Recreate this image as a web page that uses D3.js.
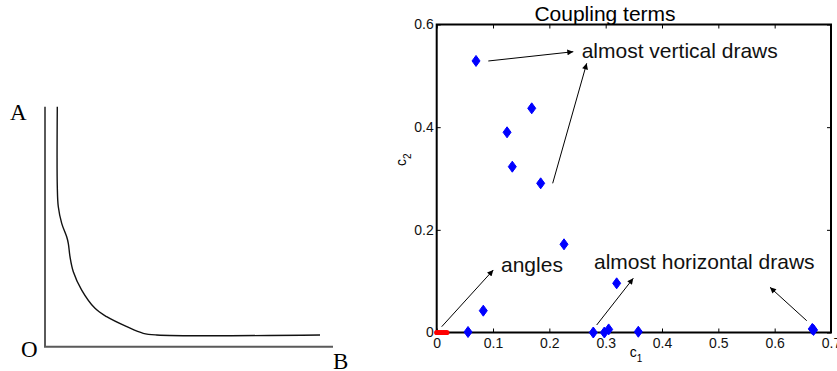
<!DOCTYPE html>
<html>
<head>
<meta charset="utf-8">
<script src="https://cdn.jsdelivr.net/npm/d3@7"></script>
<style>
  body { margin: 0; background: #fff; }
  svg { display: block; }
  .tick text { font-family: "Liberation Sans", Arial, sans-serif; }
</style>
</head>
<body>
<svg id="chart" width="837" height="371"></svg>
<script>
// left sketch: curve in abstract units (0..100 on both axes)
var sketchX = [4.27, 4.27, 4.62, 5.8, 7.53, 8.09, 8.68, 9.83, 12.74, 17.36, 21.4, 28.4, 34.1, 38.8, 95.5];
var sketchY = [100, 66.7, 58.3, 51.4, 45.8, 43.1, 37.5, 31.25, 23.6, 16.0, 12.5, 8.33, 5.58, 4.88, 4.88];

// right chart: coupling terms
var drawC1 = [0.0698, 0.1687, 0.1249, 0.1342, 0.1846, 0.226, 0.3195, 0.0827, 0.0556, 0.278, 0.2976, 0.3053, 0.3579, 0.6668, 0.669];
var drawC2 = [0.529, 0.4367, 0.390, 0.323, 0.2906, 0.1718, 0.0958, 0.0425, 0.001, 0.0, 0.0, 0.006, 0.0015, 0.007, 0.005];
var angleC1 = [0.0, 0.003, 0.006, 0.009, 0.012, 0.015, 0.018];
var angleC2 = [0, 0, 0, 0, 0, 0, 0];
var xTicks = [0, 0.1, 0.2, 0.3, 0.4, 0.5, 0.6, 0.7];
var yTicks = [0, 0.2, 0.4, 0.6];

var notes = [
  {text: "almost vertical draws", x: 0.2574, y: 0.5347},
  {text: "angles", x: 0.1142, y: 0.1173},
  {text: "almost horizontal draws", x: 0.2793, y: 0.1231}
];
var arrows = [
  [0.0916, 0.5289, 0.2425, 0.547],
  [0.2059, 0.2906, 0.2663, 0.5244],
  [0.0089, 0.0113, 0.1005, 0.1218],
  [0.2840, 0.0146, 0.3490, 0.1056],
  [0.6569, 0.0230, 0.5917, 0.0880]
];

var svg = d3.select("#chart");

// ---------- left sketch ----------
var sx = d3.scaleLinear().domain([0, 100]).range([45, 333]);
var sy = d3.scaleLinear().domain([0, 100]).range([346.7, 106.7]);

svg.append("path")
  .attr("d", "M" + sx(0) + "," + sy(100) + "V" + sy(0) + "H" + sx(100))
  .attr("fill", "none")
  .attr("stroke", "#5a5a5a")
  .attr("stroke-width", 2);

var sketchLine = d3.line()
  .x(function(d, i) { return sx(sketchX[i]); })
  .y(function(d, i) { return sy(sketchY[i]); })
  .curve(d3.curveCatmullRom);

svg.append("path")
  .attr("d", sketchLine(sketchX))
  .attr("fill", "none")
  .attr("stroke", "#111")
  .attr("stroke-width", 1.4);

var serif = "'Liberation Serif', 'Times New Roman', serif";
svg.append("text").attr("x", 10).attr("y", 120).text("A")
  .style("font-family", serif).style("font-size", "23px");
svg.append("text").attr("x", 21).attr("y", 357).text("O")
  .style("font-family", serif).style("font-size", "23px");
svg.append("text").attr("x", 333).attr("y", 369).text("B")
  .style("font-family", serif).style("font-size", "23px");

// ---------- right chart ----------
var x = d3.scaleLinear().domain([0, 0.7]).range([436.7, 831]);
var y = d3.scaleLinear().domain([0, 0.6]).range([332.5, 24.5]);
var sans = "'Liberation Sans', Arial, sans-serif";

var g = svg.append("g");

function styleAxis(sel) {
  sel.select(".domain").remove();
  sel.selectAll(".tick line").attr("stroke", "#000").attr("stroke-width", 1);
  sel.selectAll(".tick text").style("font-size", "14px").attr("fill", "#111");
}

g.append("g").attr("transform", "translate(0," + y(0) + ")")
  .call(d3.axisBottom(x).tickValues(xTicks).tickSize(-4).tickPadding(6).tickFormat(d3.format("")))
  .call(styleAxis);
g.append("g").attr("transform", "translate(0," + y(0.6) + ")")
  .call(d3.axisTop(x).tickValues(xTicks).tickSize(-4).tickFormat(""))
  .call(styleAxis);
g.append("g").attr("transform", "translate(" + x(0) + ",0)")
  .call(d3.axisLeft(y).tickValues(yTicks).tickSize(-4).tickPadding(3).tickFormat(d3.format("")))
  .call(styleAxis);
g.append("g").attr("transform", "translate(" + x(0.7) + ",0)")
  .call(d3.axisRight(y).tickValues(yTicks).tickSize(-4).tickFormat(""))
  .call(styleAxis);

g.append("rect")
  .attr("x", x(0)).attr("y", y(0.6))
  .attr("width", x(0.7) - x(0)).attr("height", y(0) - y(0.6))
  .attr("fill", "none").attr("stroke", "#000").attr("stroke-width", 2);

// title and labels
g.append("text").attr("x", 605).attr("y", 21).attr("text-anchor", "middle")
  .style("font-family", sans).style("font-size", "21px").text("Coupling terms");

var xl = g.append("text").attr("x", x(0.35) - 4).attr("y", 357)
  .style("font-family", sans).style("font-size", "14px");
xl.append("tspan").text("c");
xl.append("tspan").attr("dy", 5).style("font-size", "10px").text("1");

var yl = g.append("text").attr("transform", "translate(406,166) rotate(-90)")
  .style("font-family", sans).style("font-size", "14px");
yl.append("tspan").text("c");
yl.append("tspan").attr("dy", 5).style("font-size", "10px").text("2");

// arrows
svg.append("defs").append("marker")
  .attr("id", "head").attr("viewBox", "0 0 10 10")
  .attr("refX", 10).attr("refY", 5)
  .attr("markerWidth", 8).attr("markerHeight", 6)
  .attr("markerUnits", "userSpaceOnUse")
  .attr("orient", "auto")
  .append("path").attr("d", "M0,0L10,5L0,10Z").attr("fill", "#000");

g.selectAll(".arrow").data(arrows).enter().append("line")
  .attr("x1", function(d) { return x(d[0]); })
  .attr("y1", function(d) { return y(d[1]); })
  .attr("x2", function(d) { return x(d[2]); })
  .attr("y2", function(d) { return y(d[3]); })
  .attr("stroke", "#000").attr("stroke-width", 1)
  .attr("marker-end", "url(#head)");

g.selectAll(".note").data(notes).enter().append("text")
  .attr("x", function(d) { return x(d.x); })
  .attr("y", function(d) { return y(d.y); })
  .style("font-family", sans).style("font-size", "21px").attr("fill", "#111")
  .text(function(d) { return d.text; });

// points
var diamond = "M0,-5.5L4,0L0,5.5L-4,0Z";
g.selectAll(".draw").data(drawC1).enter().append("path")
  .attr("d", diamond)
  .attr("transform", function(d, i) { return "translate(" + x(d) + "," + y(drawC2[i]) + ")"; })
  .attr("fill", "#0000ff").attr("stroke", "#0000ff").attr("stroke-width", 1);

g.selectAll(".angle").data(angleC1).enter().append("circle")
  .attr("cx", function(d) { return x(d); })
  .attr("cy", function(d, i) { return y(angleC2[i]); })
  .attr("r", 2.6)
  .attr("fill", "#ff0000");
</script>
</body>
</html>
